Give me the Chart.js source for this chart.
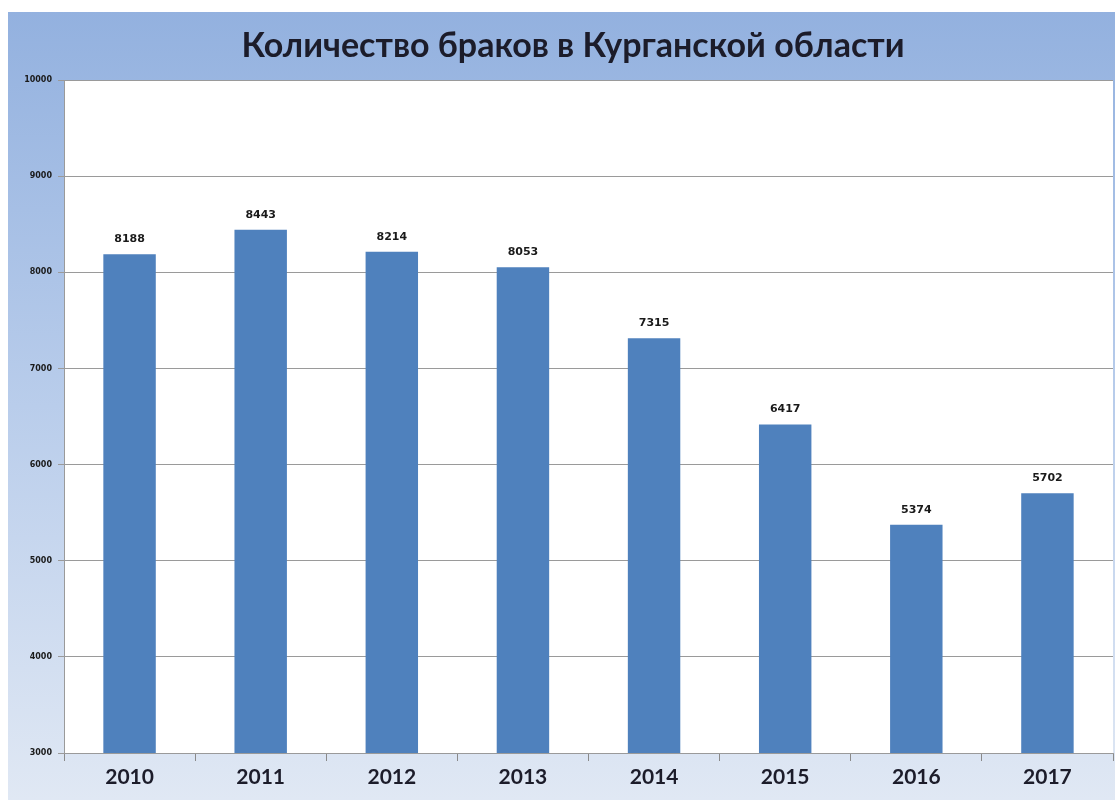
<!DOCTYPE html>
<html>
<head>
<meta charset="utf-8">
<script src="https://cdn.jsdelivr.net/npm/chart.js@4"></script>
<style>
  html, body { margin: 0; padding: 0; background: #ffffff; }
  #wrap { position: absolute; left: 8px; top: 12px; width: 1107px; height: 788px; }
</style>
</head>
<body>
<div id="wrap"><canvas id="c"></canvas></div>
<script>
const titleText = "Количество браков в Курганской области";
const categories = ["2010", "2011", "2012", "2013", "2014", "2015", "2016", "2017"];
const marriages = [8188, 8443, 8214, 8053, 7315, 6417, 5374, 5702];
const yTicks = [3000, 4000, 5000, 6000, 7000, 8000, 9000, 10000];

const bgPlugin = {
  id: 'bg',
  beforeDraw(chart) {
    const ctx = chart.ctx;
    const g = ctx.createLinearGradient(0, 0, 0, chart.height);
    g.addColorStop(0, '#93b1df');
    g.addColorStop(0.5, '#b9cdeb');
    g.addColorStop(1, '#e0e8f4');
    ctx.save();
    ctx.fillStyle = g;
    ctx.fillRect(0, 0, chart.width, chart.height);
    const a = chart.chartArea;
    ctx.fillStyle = '#ffffff';
    ctx.fillRect(a.left, a.top, a.right - a.left, a.bottom - a.top);
    ctx.restore();
  },
  afterDraw(chart) {
    const ctx = chart.ctx;
    ctx.save();
    ctx.font = 'bold 34px Lato';
    ctx.fillStyle = '#1c1c2a';
    ctx.textAlign = 'center';
    ctx.textBaseline = 'middle';
    ctx.fillText(titleText, 565, 34);
    ctx.restore();
  }
};

const labelPlugin = {
  id: 'vals',
  afterDatasetsDraw(chart) {
    const ctx = chart.ctx;
    const meta = chart.getDatasetMeta(0);
    ctx.save();
    ctx.font = 'bold 11px "DejaVu Sans"';
    ctx.fillStyle = '#1a1a1a';
    ctx.textAlign = 'center';
    ctx.textBaseline = 'middle';
    meta.data.forEach((bar, i) => {
      ctx.fillText(String(chart.data.datasets[0].data[i]), bar.x, bar.y - 15);
    });
    ctx.restore();
  }
};

new Chart(document.getElementById('c'), {
  type: 'bar',
  data: {
    labels: categories,
    datasets: [{
      data: marriages,
      backgroundColor: '#4f81bd',
      borderWidth: 0,
      barPercentage: 0.8,
      categoryPercentage: 0.5
    }]
  },
  options: {
    responsive: true,
    maintainAspectRatio: false,
    animation: false,
    layout: { padding: { left: 0, right: 2, top: 0, bottom: 0 } },
    plugins: {
      legend: { display: false },
      tooltip: { enabled: false },
      title: {
        display: true,
        text: titleText,
        color: 'rgba(0,0,0,0)',
        font: { family: 'Lato', size: 30, weight: 'bold' },
        padding: { top: 16, bottom: 16 }
      }
    },
    scales: {
      x: {
        grid: { display: true, drawOnChartArea: false, drawTicks: true, tickLength: 8, offset: true, color: '#8a8a8a' },
        border: { display: true, color: '#9a9a9a' },
        ticks: { color: '#1c1c2a', font: { family: 'Lato', size: 21, weight: 'bold' }, padding: 4 },
        afterFit(scale) { scale.height = 47; }
      },
      y: {
        min: 3000,
        max: 10000,
        afterBuildTicks(scale) { scale.ticks = yTicks.map(v => ({ value: v })); },
        grid: { color: '#9a9a9a', drawTicks: true, tickLength: 6 },
        border: { display: true, color: '#9a9a9a' },
        ticks: { color: '#1a1a1a', font: { family: 'DejaVu Sans', size: 8, weight: 'bold' }, padding: 6,
                 callback: (v) => String(v) },
        afterFit(scale) { scale.width = 56; }
      }
    }
  },
  plugins: [bgPlugin, labelPlugin]
});
</script>
</body>
</html>
